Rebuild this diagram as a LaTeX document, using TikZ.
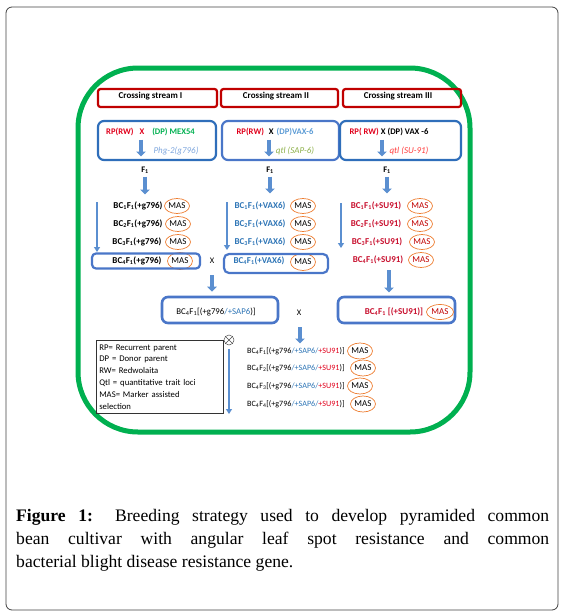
\documentclass[tikz,border=0pt]{standalone}
\usepackage{fontspec}
\setmainfont{Carlito}
\newfontfamily\capfont{Liberation Serif}
\usetikzlibrary{arrows.meta,shapes.geometric}
\definecolor{dred}{HTML}{C00000}
\definecolor{rtext}{HTML}{E0001B}
\definecolor{rrow}{HTML}{C8102E}
\definecolor{gtext}{HTML}{00B050}
\definecolor{lblue}{HTML}{5B9BD5}
\definecolor{pblue}{HTML}{7FA7DD}
\definecolor{bblue}{HTML}{2E75B6}
\definecolor{boxa}{HTML}{2F6EBA}
\definecolor{boxb}{HTML}{4A76C8}
\definecolor{qgreen}{HTML}{8DB04A}
\definecolor{qred}{HTML}{FF3B3B}
\definecolor{orng}{HTML}{ED7D31}
\definecolor{arrc}{HTML}{5B8FD0}
\definecolor{gframe}{HTML}{00B050}
\tikzset{
  frame/.style={draw=black!75, line width=0.8pt, rounded corners=6pt},
  greenframe/.style={draw=gframe, line width=5pt, rounded corners=60pt},
  streambox/.style={draw=dred, line width=2.2pt, rounded corners=2.5pt, minimum height=18pt, inner sep=0},
  sttext/.style={font=\bfseries\fontsize{9}{10}\selectfont, inner sep=0},
  parbox/.style={draw=boxa, line width=2.2pt, rounded corners=6pt, minimum height=39pt, inner sep=0},
  ptext/.style={font=\bfseries\fontsize{8.6}{10}\selectfont, inner sep=0},
  itext/.style={font=\itshape\fontsize{9}{10}\selectfont, inner sep=0},
  ftext/.style={font=\bfseries\fontsize{8.5}{10}\selectfont, inner sep=0},
  rowtext/.style={font=\bfseries\fontsize{9}{10}\selectfont, inner sep=0},
  fintext/.style={font=\fontsize{8.1}{10}\selectfont, inner sep=0},
  mas/.style={ellipse, draw=orng, line width=0.7pt, minimum width=25pt, minimum height=15pt, inner sep=0, font=\fontsize{9}{10}\selectfont},
  combox/.style={draw=boxb, line width=2.6pt, rounded corners=6pt, inner sep=0},
  barrow/.style={draw=arrc, line width=4pt, -{Triangle[length=5pt,width=9.5pt]}},
  tarrow/.style={draw=arrc, line width=2.2pt, -{Triangle[length=5pt,width=6pt]}},
  xtext/.style={font=\fontsize{8.5}{10}\selectfont, inner sep=0},
}
\begin{document}
\begin{tikzpicture}[x=1pt,y=-1pt]
\useasboundingbox (0,0) rectangle (566,616);
\draw[frame] (6,7) rectangle (558,610);
\draw[greenframe] (78,68) rectangle (470,432);

% crossing streams
\node[streambox, minimum width=119pt] (s1) at (157.5,98) {};
\node[streambox, minimum width=117pt] (s2) at (279.5,98) {};
\node[streambox, minimum width=118pt] (s3) at (402,98) {};
\node[sttext] (s1t) at (150.5,96) {Crossing stream I};
\node[sttext] (s2t) at (276,96) {Crossing stream II};
\node[sttext] (s3t) at (398,96) {Crossing stream III};

% parent boxes
\node[parbox, minimum width=118pt] (p1) at (157,140.5) {};
\node[parbox, draw=boxb, minimum width=117pt] (p2) at (280.5,140.5) {};
\node[parbox, minimum width=121pt] (p3) at (400.5,140.5) {};
\node[ptext] (p1t) at (150.5,132) {\textcolor{rtext}{RP(RW)\hspace{6pt}X\hspace{8pt}}\textcolor{gtext}{(DP) MEX54}};
\node[ptext] (p2t) at (275,132) {\textcolor{rtext}{RP(RW)}\hspace{5pt}X\hspace{3pt}\textcolor{lblue}{(DP)VAX-6}};
\node[ptext] (p3t) at (389,132) {\textcolor{rtext}{RP( RW)}\hspace{2pt}X (DP) VAX -6};
\node[itext, text=pblue] (p1g) at (176,151) {Phg-2(g796)};
\node[itext, text=qgreen] (p2g) at (295,151) {qtl (SAP-6)};
\node[itext, text=qred] (p3g) at (409,151) {qtl (SU-91)};
\coordinate (p1a) at (141,139.5); \coordinate (p1b) at (141,156.5);
\coordinate (p2a) at (269,139.5); \coordinate (p2b) at (269,156.5);
\coordinate (p3a) at (382,139.5); \coordinate (p3b) at (382,156.5);
\draw[barrow] (p1a) -- (p1b);
\draw[barrow] (p2a) -- (p2b);
\draw[barrow] (p3a) -- (p3b);

% F1
\node[ftext] (f1) at (145,170) {F\textsubscript{1}};
\node[ftext] (f2) at (270,170) {F\textsubscript{1}};
\node[ftext] (f3) at (387,170) {F\textsubscript{1}};
\coordinate (f1b) at (145,194.5);
\coordinate (f2b) at (270,193.5);
\coordinate (f3b) at (387,193.5);
\draw[barrow, shorten <=3pt] (f1.south) -- (f1b);
\draw[barrow, shorten <=3pt] (f2.south) -- (f2b);
\draw[barrow, shorten <=3pt] (f3.south) -- (f3b);

% column I
\node[rowtext] (r11) at (138,206) {BC\textsubscript{1}F\textsubscript{1}(+g796)};
\node[rowtext] (r12) at (138,224) {BC\textsubscript{2}F\textsubscript{1}(+g796)};
\node[rowtext] (r13) at (137,242) {BC\textsubscript{3}F\textsubscript{1}(+g796)};
\node[rowtext] (r14) at (137,260.5) {BC\textsubscript{4}F\textsubscript{1}(+g796)};
\node[mas] (m11) at (177,206) {MAS};
\node[mas] (m12) at (178,224) {MAS};
\node[mas] (m13) at (178,242) {MAS};
\node[mas, minimum height=17pt] (m14) at (180,261) {MAS};
\node[combox, line width=2.2pt, minimum width=108pt, minimum height=15pt, rounded corners=4pt] (b1) at (146,261) {};
\coordinate (t1a) at (97,202); \coordinate (t1b) at (97,252);
\draw[tarrow] (t1a) -- (t1b);

% column II
\node[rowtext, text=bblue] (r21) at (260,206) {BC\textsubscript{1}F\textsubscript{1}(+VAX6)};
\node[rowtext, text=bblue] (r22) at (260,224) {BC\textsubscript{2}F\textsubscript{1}(+VAX6)};
\node[rowtext, text=bblue] (r23) at (260,242) {BC\textsubscript{3}F\textsubscript{1}(+VAX6)};
\node[rowtext, text=bblue] (r24) at (259,261) {BC\textsubscript{4}F\textsubscript{1}(+VAX6)};
\node[mas] (m21) at (303,206) {MAS};
\node[mas] (m22) at (303,224) {MAS};
\node[mas] (m23) at (303,242) {MAS};
\node[mas, minimum height=17pt] (m24) at (303,262) {MAS};
\node[combox, line width=2.2pt, minimum width=104pt, minimum height=19pt, rounded corners=5pt] (b2) at (276,263.5) {};
\coordinate (t2a) at (227,202); \coordinate (t2b) at (227,250);
\draw[tarrow] (t2a) -- (t2b);

% column III
\node[rowtext, text=rrow] (r31) at (376,206) {BC\textsubscript{1}F\textsubscript{1}(+SU91)};
\node[rowtext, text=rrow] (r32) at (376,224) {BC\textsubscript{2}F\textsubscript{1}(+SU91)};
\node[rowtext, text=rrow] (r33) at (377,242) {BC\textsubscript{3}F\textsubscript{1}(+SU91)};
\node[rowtext, text=rrow] (r34) at (378,260) {BC\textsubscript{4}F\textsubscript{1}(+SU91)};
\node[mas, text=dred] (m31) at (420,206) {MAS};
\node[mas, text=dred] (m32) at (420,224) {MAS};
\node[mas, text=dred] (m33) at (422,242) {MAS};
\node[mas, text=dred] (m34) at (421,260) {MAS};
\coordinate (t3a) at (341,203); \coordinate (t3b) at (341,248);
\draw[tarrow] (t3a) -- (t3b);

% cross X between col I and col II
\node[xtext] (x1) at (212,260.5) {X};

% combined
\node[combox, minimum width=116pt, minimum height=26pt] (c1) at (220,310) {};
\node[combox, minimum width=117pt, minimum height=26pt] (c3) at (396.5,310) {};
\node[fintext, font=\fontsize{8.8}{10}\selectfont] (c1t) at (216,312) {BC\textsubscript{4}F\textsubscript{1}[(+g796\textcolor{bblue}{/+SAP6})]};
\node[rowtext, text=rrow] (c3t) at (394,312) {BC\textsubscript{4}F\textsubscript{1} [(+SU91)]};
\node[mas, text=dred, minimum width=27pt] (mc3) at (440,312) {MAS};
\node[xtext] (x2) at (299,313) {X};
\draw[barrow, shorten <=12pt, shorten >=4pt] (x1.south) -- (c1.north -| x1.south);
\coordinate (c3a) at (389,270); \coordinate (c3b) at (389,292.5);
\draw[barrow] (c3a) -- (c3b);

% selfing
\node[circle, draw=black!70, line width=0.5pt, minimum size=10pt, inner sep=0] (ot) at (229,340) {};
\draw[black!70, line width=0.5pt] (ot.north west) -- (ot.south east) (ot.north east) -- (ot.south west);
\coordinate (o1) at (229,349); \coordinate (o2) at (229,414);
\draw[tarrow] (o1) -- (o2);
\coordinate (xa) at (300,327); \coordinate (xb) at (300,343.5);
\draw[barrow] (xa) -- (xb);

\node[fintext, anchor=west] (g1) at (247,351) {BC\textsubscript{4}F\textsubscript{1}[(+g796\textcolor{bblue}{/+SAP6/}\textcolor{rtext}{+SU91})]};
\node[fintext, anchor=west] (g2) at (247,368) {BC\textsubscript{4}F\textsubscript{2}[(+g796\textcolor{bblue}{/+SAP6/}\textcolor{rtext}{+SU91})]};
\node[fintext, anchor=west] (g3) at (247,386) {BC\textsubscript{4}F\textsubscript{3}[(+g796\textcolor{bblue}{/+SAP6/}\textcolor{rtext}{+SU91})]};
\node[fintext, anchor=west] (g4) at (247,404) {BC\textsubscript{4}F\textsubscript{4}[(+g796\textcolor{bblue}{/+SAP6/}\textcolor{rtext}{+SU91})]};
\node[mas, minimum height=16pt] (mg1) at (360,351) {MAS};
\node[mas, minimum height=16pt] (mg2) at (363,368) {MAS};
\node[mas, minimum height=16pt] (mg3) at (360,386) {MAS};
\node[mas, minimum height=16pt] (mg4) at (363,404) {MAS};

% legend
\node[draw=black!80, line width=0.6pt, anchor=north west, text width=121pt, minimum height=73pt, inner xsep=3pt, inner ysep=2pt, align=left, font=\fontsize{8.7}{11.8}\selectfont] (leg) at (96,340) {RP= Recurrent parent\\DP = Donor parent\\RW= Redwolaita\\Qtl = quantitative trait loci\\MAS= Marker assisted\\selection};

% caption
\node[text width=533pt, align=justify, anchor=north west, inner sep=0, font=\capfont\fontsize{17.6}{23}\selectfont] (cap) at (16,509) {\textbf{Figure 1:} Breeding strategy used to develop pyramided common\linebreak bean cultivar with angular leaf spot resistance and common\linebreak bacterial blight disease resistance gene.};
\end{tikzpicture}
\end{document}
